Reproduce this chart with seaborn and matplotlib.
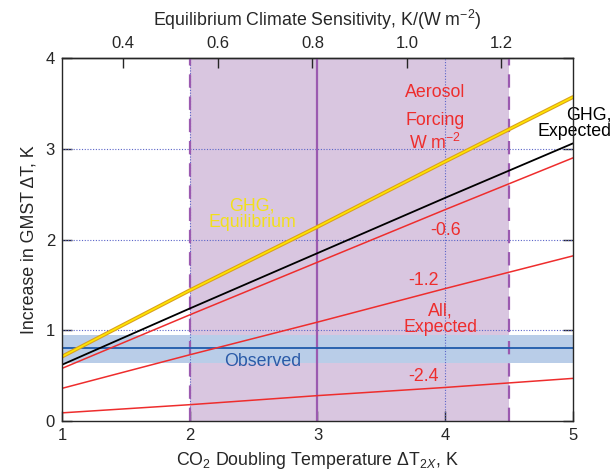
import numpy as np
import pandas as pd
import seaborn as sns
import matplotlib
matplotlib.use('Agg')
from matplotlib import pyplot as plt

#%% Data

DT2X = [1, 2, 3, 4, 5]
GHG_EQUILIBRIUM = [0.71, 1.44, 2.14, 2.86, 3.57]
GHG_EXPECTED = [0.62, 1.24, 1.85, 2.46, 3.06]
AEROSOL_06 = [0.58, 1.17, 1.75, 2.33, 2.90]
AEROSOL_12 = [0.36, 0.73, 1.09, 1.46, 1.82]
AEROSOL_24 = [0.09, 0.18, 0.28, 0.37, 0.47]

OBSERVED = 0.80
OBSERVED_RANGE = (0.64, 0.95)
LIKELY_RANGE = (2.0, 4.5)
BEST_ESTIMATE = 3.0
FORCING_2X = 3.7   # W m-2, converts dT2x to equilibrium sensitivity

TOP_TICKS = [0.4, 0.6, 0.8, 1.0, 1.2]

#%% Style

sns.set_style('ticks')
plt.rcParams['font.family'] = ['Liberation Sans', 'DejaVu Sans']
plt.rcParams['mathtext.fontset'] = 'custom'
plt.rcParams['mathtext.rm'] = 'Liberation Sans'
plt.rcParams['mathtext.it'] = 'Liberation Sans:italic'
plt.rcParams['axes.linewidth'] = 1.0

RED = '#ee2d2d'
PURPLE_FILL = '#d9c6e0'
PURPLE_LINE = '#9b5ab0'
GRID = '#5a64c8'

df = pd.DataFrame({'dT2x': DT2X * 5,
                   'dT': GHG_EQUILIBRIUM + GHG_EXPECTED + AEROSOL_06 + AEROSOL_12 + AEROSOL_24,
                   'series': (['ghg_eq'] * 5 + ['ghg_exp'] * 5 + ['a06'] * 5
                              + ['a12'] * 5 + ['a24'] * 5)})

fig = plt.figure(figsize=(6.15, 4.72), dpi=100)
ax = fig.add_axes([0.1008, 0.108, 0.8309, 0.769])

# likely range and observed band
ax.axvspan(*LIKELY_RANGE, facecolor=PURPLE_FILL, edgecolor='none', zorder=0)
ax.axhspan(*OBSERVED_RANGE, facecolor='#b9cde8', edgecolor='none', zorder=1)

# dotted grid
for yv in [1, 2, 3]:
    ax.axhline(yv, color=GRID, lw=0.8, ls=(0, (1, 1.5)), zorder=2)
for xv in [2, 4]:
    ax.axvline(xv, color=GRID, lw=0.8, ls=(0, (1, 1.5)), zorder=2)

for xv in LIKELY_RANGE:
    ax.axvline(xv, color=PURPLE_LINE, lw=1.6, ls=(0, (6, 4)), zorder=3)
ax.axvline(BEST_ESTIMATE, color=PURPLE_LINE, lw=1.6, zorder=3)

ax.axhline(OBSERVED, color='#1f5aaa', lw=1.3, zorder=3)

# model lines
sub = df[df['series'].isin(['a06', 'a12', 'a24'])]
sns.lineplot(data=sub, x='dT2x', y='dT', units='series', estimator=None,
             color=RED, lw=1.1, ax=ax, zorder=4)
sns.lineplot(data=df[df['series'] == 'ghg_exp'], x='dT2x', y='dT',
             color='black', lw=1.3, ax=ax, zorder=5)
sns.lineplot(data=df[df['series'] == 'ghg_eq'], x='dT2x', y='dT',
             color='#dba11c', lw=2.8, ax=ax, zorder=6)
sns.lineplot(data=df[df['series'] == 'ghg_eq'], x='dT2x', y='dT',
             color='#ffe600', lw=1.2, ax=ax, zorder=7)

# annotations
fs = 12.8
ax.text(3.92, 3.625, 'Aerosol', color=RED, fontsize=fs, ha='center', va='center')
ax.text(3.92, 3.31, 'Forcing', color=RED, fontsize=fs, ha='center', va='center')
ax.text(3.92, 3.06, 'W m$^{-2}$', color=RED, fontsize=fs, ha='center', va='center')
ax.text(4.0, 2.1, '-0.6', color=RED, fontsize=fs, ha='center', va='center')
ax.text(3.83, 1.55, '-1.2', color=RED, fontsize=fs, ha='center', va='center')
ax.text(3.83, 0.49, '-2.4', color=RED, fontsize=fs, ha='center', va='center')
ax.text(3.96, 1.12, 'All,\nExpected', color=RED, fontsize=fs, ha='center',
        va='center', linespacing=0.95)
ax.text(2.49, 2.28, 'GHG,\nEquilibrium', color='#f2e01a', fontsize=fs,
        ha='center', va='center', linespacing=0.95)
ax.text(5.30, 3.28, 'GHG,\nExpected', color='black', fontsize=fs,
        ha='right', va='center', multialignment='right', linespacing=0.95,
        clip_on=False, zorder=8)
ax.text(2.57, 0.66, 'Observed', color='#2a5aa8', fontsize=fs,
        ha='center', va='center')

ax.set_xlim(1, 5)
ax.set_ylim(0, 4)
ax.set_xticks(DT2X)
ax.set_yticks([0, 1, 2, 3, 4])
ax.tick_params(direction='in', length=7, width=1.0, labelsize=12,
               right=True, top=False, pad=5)
ax.set_xlabel('CO$_2$ Doubling Temperature \u0394T$_{2X}$, K', fontsize=12.8, labelpad=5)
ax.set_ylabel('Increase in GMST \u0394T, K', fontsize=12.8, labelpad=6)

# top axis: equilibrium climate sensitivity
top = ax.secondary_xaxis('top', functions=(lambda x: x / FORCING_2X,
                                           lambda s: s * FORCING_2X))
top.set_xticks(TOP_TICKS)
top.set_xticklabels(['%.1f' % t for t in TOP_TICKS])
top.tick_params(direction='in', length=7, width=1.0, labelsize=12, pad=5)
top.set_xlabel('Equilibrium Climate Sensitivity, K/(W m$^{-2}$)', fontsize=12.8,
               labelpad=7)

for spine in ax.spines.values():
    spine.set_visible(True)
    spine.set_zorder(9)

fig.savefig('out.png', dpi=100)
